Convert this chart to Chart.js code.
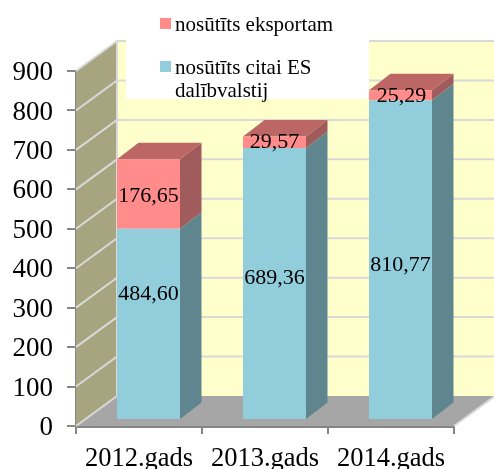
<!DOCTYPE html>
<html>
<head>
<meta charset="utf-8">
<script src="https://cdn.jsdelivr.net/npm/chart.js@4"></script>
<style>
    html, body { margin: 0; padding: 0; background: #fff; }
    #wrap { width: 494px; height: 469px; }
</style>
</head>
<body>
<div id="wrap"><canvas id="chart" width="494" height="469"></canvas></div>
<script>
const categories = ['2012.gads', '2013.gads', '2014.gads'];
const seriesNames = ['nosūtīts citai ES dalībvalstij', 'nosūtīts eksportam'];
const citaiEs = [484.60, 689.36, 810.77];
const eksportam = [176.65, 29.57, 25.29];
const yTicks = [0, 100, 200, 300, 400, 500, 600, 700, 800, 900];

const FONT = '"Liberation Serif", "Times New Roman", serif';

// 3d look: how far the back wall sits from the front plane, and where the bars sit in that depth
const wallDx = 41, wallDy = -30;
const barDx = 9.5, barDy = -6;
const sideDx = 21.5, sideDy = -16.5;

// hand placed labels in the original, so nudged from segment centre
const labelNudge = [
    [[0, -30], [0, -5], [0, 6]],
    [[0, 2], [0, 0], [1, 1]]
];

function poly(ctx, pts, color) {
    ctx.fillStyle = color;
    ctx.beginPath();
    pts.forEach((p, i) => i ? ctx.lineTo(p[0], p[1]) : ctx.moveTo(p[0], p[1]));
    ctx.closePath();
    ctx.fill();
}

const box3d = {
    id: 'box3d',
    beforeDatasetsDraw(chart) {
        const ctx = chart.ctx;
        const a = chart.chartArea;
        const y = chart.scales.y;
        const backL = a.left + wallDx, backR = a.right + wallDx;
        const t = y.getPixelForValue(yTicks[yTicks.length - 1]);

        ctx.save();
        // back wall, side wall, floor
        poly(ctx, [[backL, t + wallDy], [backR, t + wallDy], [backR, a.bottom + wallDy], [backL, a.bottom + wallDy]], '#FFFFCC');
        poly(ctx, [[a.left, t], [backL, t + wallDy], [backL, a.bottom + wallDy], [a.left, a.bottom]], '#A6A57F');
        poly(ctx, [[a.left, a.bottom], [a.right, a.bottom], [backR, a.bottom + wallDy], [backL, a.bottom + wallDy]], '#A6A6A6');

        // grid lines
        ctx.strokeStyle = '#D9D9D9';
        ctx.lineWidth = 2;
        yTicks.forEach(v => {
            const py = y.getPixelForValue(v);
            ctx.beginPath();
            ctx.moveTo(a.left, py);
            ctx.lineTo(backL, py + wallDy);
            if (v > 0) ctx.lineTo(backR, py + wallDy);
            ctx.stroke();
        });
        ctx.beginPath();
        ctx.moveTo(backL, t + wallDy);
        ctx.lineTo(backL, a.bottom + wallDy);
        ctx.moveTo(a.right, a.bottom);
        ctx.lineTo(backR, a.bottom + wallDy);
        ctx.stroke();

        // legend sits on a white patch that hides part of the wall
        ctx.fillStyle = '#fff';
        ctx.fillRect(126, 0, 243, 99);

        // bar sides and top
        const sideColors = ['#5F858F', '#A05C5C'];
        const topColor = '#BC6666';
        chart.data.datasets.forEach((ds, i) => {
            chart.getDatasetMeta(i).data.forEach(bar => {
                const r = bar.x + bar.width / 2 + barDx;
                const l = bar.x - bar.width / 2 + barDx;
                const top = bar.y + barDy, bot = bar.base + barDy;
                poly(ctx, [[r, top], [r + sideDx, top + sideDy], [r + sideDx, bot + sideDy], [r, bot]], sideColors[i]);
                if (i === chart.data.datasets.length - 1) {
                    poly(ctx, [[l, top], [l + sideDx, top + sideDy], [r + sideDx, top + sideDy], [r, top]], topColor);
                }
            });
        });
        ctx.restore();
    },
    beforeDatasetDraw(chart) {
        chart.ctx.save();
        chart.ctx.translate(barDx, barDy);
    },
    afterDatasetDraw(chart) {
        chart.ctx.restore();
    },
    afterDatasetsDraw(chart) {
        const ctx = chart.ctx;
        ctx.save();
        // value labels
        ctx.fillStyle = '#000';
        ctx.font = '22px ' + FONT;
        ctx.textAlign = 'center';
        ctx.textBaseline = 'middle';
        chart.data.datasets.forEach((ds, i) => {
            chart.getDatasetMeta(i).data.forEach((bar, j) => {
                const n = labelNudge[i][j];
                const text = ds.data[j].toFixed(2).replace('.', ',');
                ctx.fillText(text, bar.x + barDx + n[0], (bar.y + bar.base) / 2 + barDy + n[1]);
            });
        });

        // legend
        ctx.font = '21px ' + FONT;
        ctx.textAlign = 'left';
        ctx.fillStyle = '#FF8B8B';
        ctx.fillRect(160, 18, 11, 11);
        ctx.fillStyle = '#92CDDC';
        ctx.fillRect(160, 61, 11, 11);
        ctx.fillStyle = '#000';
        ctx.fillText(seriesNames[1], 175, 25);
        ctx.fillText('nosūtīts citai ES', 175, 68);
        ctx.fillText('dalībvalstij', 175, 91);
        ctx.restore();
    }
};

new Chart(document.getElementById('chart'), {
    type: 'bar',
    data: {
        labels: categories,
        datasets: [
            { label: seriesNames[0], data: citaiEs, backgroundColor: '#92CDDC', barPercentage: 1, categoryPercentage: 0.5 },
            { label: seriesNames[1], data: eksportam, backgroundColor: '#FF8B8B', barPercentage: 1, categoryPercentage: 0.5 }
        ]
    },
    options: {
        responsive: false,
        animation: false,
        layout: { padding: { top: 71, right: 40 } },
        plugins: {
            legend: { display: false },
            tooltip: { enabled: false }
        },
        scales: {
            x: {
                stacked: true,
                afterFit: s => { s.height = 43; },
                grid: { drawOnChartArea: false, color: '#868686', tickLength: 8, lineWidth: 2 },
                border: { color: '#868686', width: 3 },
                ticks: { color: '#000', padding: 9, maxRotation: 0, font: { family: FONT, size: 26.5 } }
            },
            y: {
                stacked: true,
                min: 0,
                max: 900,
                afterFit: s => { s.width = 76; },
                grid: { drawOnChartArea: false, color: '#868686', tickLength: 9, lineWidth: 2 },
                border: { color: '#868686', width: 3 },
                ticks: { stepSize: 100, color: '#000', padding: 14, labelOffset: 2, font: { family: FONT, size: 27 } }
            }
        }
    },
    plugins: [box3d]
});
</script>
</body>
</html>
